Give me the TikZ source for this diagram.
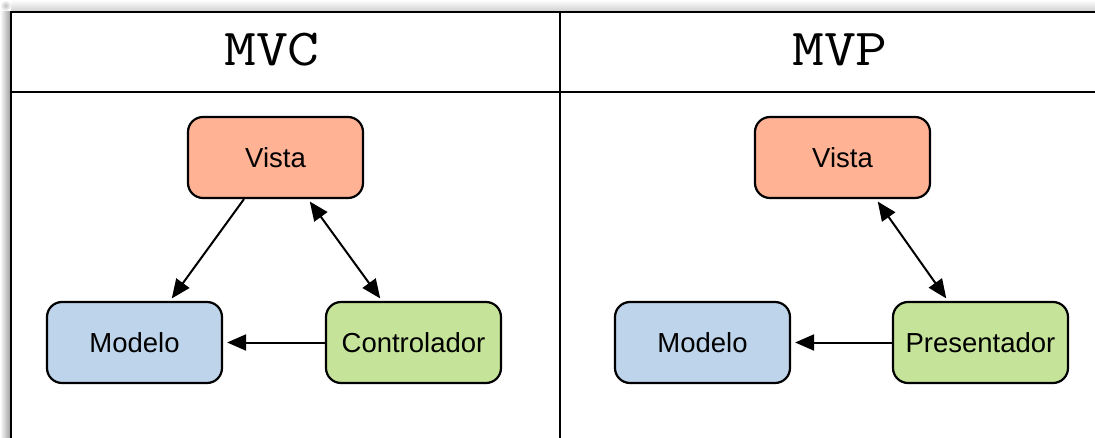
\documentclass[tikz,border=0pt]{standalone}
\usepackage{fontspec}
\setmainfont{Liberation Sans}
\usetikzlibrary{arrows.meta}
\definecolor{vistafill}{RGB}{255,178,148}
\definecolor{modelofill}{RGB}{189,212,234}
\definecolor{ctrlfill}{RGB}{197,227,153}
\newcommand{\wideTitle}[1]{\scalebox{1.19}[1]{#1}}
\tikzset{
  box/.style={draw=black, line width=2.2pt, rounded corners=15pt,
    minimum width=175pt, minimum height=81pt, inner sep=0pt,
    font=\fontsize{27.5}{32}\selectfont},
  tip/.tip={Triangle[length=19pt,width=16pt]},
  link/.style={line width=2pt, -tip, shorten >=3pt},
  biLink/.style={line width=2pt, tip-tip, shorten >=3pt, shorten <=3pt},
  grid/.style={line width=2.8pt},
  heading/.style={font=\ttfamily\fontsize{52}{56}\selectfont}
}
\begin{document}
\begin{tikzpicture}[x=1pt,y=-1pt]
\useasboundingbox (0,0) rectangle (1095,438);
\fill[white] (0,0) rectangle (1095,438);
% soft shadow along the top and left edges of the table
\shade[top color=white, bottom color=black!18] (11,0) rectangle (1095,11);
\shade[left color=white, right color=black!40] (0,11) rectangle (11,438);
\shade[inner color=black!25, outer color=white] (0,0) rectangle (11,11);
% table frame
\begin{scope}
\clip (0,0) rectangle (1095,438);
\draw[grid] (11,12) rectangle (1110,450);
\draw[grid] (11,92) -- (1110,92);
\draw[grid] (560,12) -- (560,450);
\end{scope}
% column headings
\node[heading] (hmvc) at (272,50) {\wideTitle{MVC}};
\node[heading] (hmvp) at (840,50) {\wideTitle{MVP}};
% MVC
\node[box, fill=vistafill]  (vc) at (275.5,157.5) {Vista};
\node[box, fill=modelofill] (mc) at (134.5,342.5) {Modelo};
\node[box, fill=ctrlfill]   (cc) at (413.5,342.5) {Controlador};
\draw[link] ([xshift=-31.5pt]vc.south) -- ([xshift=35.5pt]mc.north);
\draw[biLink] ([xshift=32.5pt]vc.south) -- ([xshift=-31.5pt]cc.north);
\draw[link, shorten >=4pt] (cc.west) -- (mc.east);
% MVP
\node[box, fill=vistafill]  (vp) at (842.5,157.5) {Vista};
\node[box, fill=modelofill] (mp) at (702.5,342.5) {Modelo};
\node[box, fill=ctrlfill]   (pp) at (980.5,342.5) {Presentador};
\draw[biLink] ([xshift=33.5pt]vp.south) -- ([xshift=-32.5pt]pp.north);
\draw[link, shorten >=4pt] (pp.west) -- (mp.east);
\end{tikzpicture}
\end{document}
